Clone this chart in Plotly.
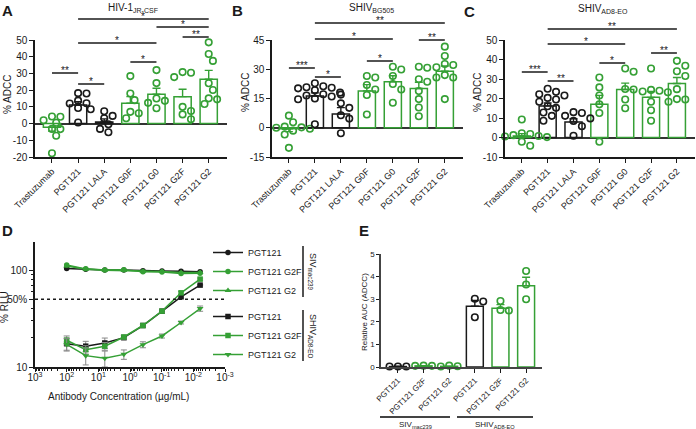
import numpy as np
import plotly.graph_objects as go

W, H = 696, 429
GREEN = "#35a035"
BLACK = "#1a1a1a"
GRAY = "#888888"
FONT = "Liberation Sans"

# ---------------- data: panels A-C ----------------
categories = ["Trastuzumab", "PGT121", "PGT121 LALA", "PGT121 G0F",
              "PGT121 G0", "PGT121 G2F", "PGT121 G2"]
cat_color = ["g", "k", "k", "g", "g", "g", "g"]

A_mean = [-2.2, 11.1, 1.0, 12.2, 17.5, 16.1, 26.5]
A_sem = [2.3, 2.0, 1.8, 3.9, 3.6, 4.4, 5.3]
A_pts = [
    [4.2, 4.1, 2.0, 0.5, -3.2, -3.3, -7.3, -17.8],
    [18.2, 18.0, 13.7, 12.2, 12.0, 9.3, 8.6, 0.6],
    [7.4, 4.6, 3.2, -0.4, -3.2, -5.2],
    [28.4, 18.0, 14.0, 7.0, 6.2, 3.2],
    [32.0, 24.2, 15.0, 13.6, 12.4, 9.2],
    [30.8, 30.4, 27.8, 10.0, 7.5, 5.5, 2.6],
    [48.6, 41.6, 37.5, 24.1, 20.1, 15.1, 14.5, 11.7],
]
B_mean = [-0.5, 16.3, 7.0, 18.9, 23.6, 20.1, 29.0]
B_sem = [1.5, 1.6, 3.3, 3.2, 3.1, 3.2, 2.7]
B_pts = [
    [6.2, 2.8, 0.6, 0.2, 0.0, -0.5, -1.5, -3.5, -10.3],
    [22.8, 21.3, 20.8, 20.5, 20.2, 19.2, 18.0, 17.2, 16.5, 16.0, 15.0, 14.6, 1.8],
    [17.0, 12.5, 10.2, 6.4, 4.7, -2.8],
    [26.5, 25.8, 21.9, 19.6, 16.8, 6.8],
    [31.3, 29.9, 26.5, 22.4, 19.6, 12.8],
    [31.3, 30.8, 24.9, 23.6, 18.8, 14.7, 10.4, 5.9],
    [41.6, 36.8, 32.7, 32.2, 31.0, 27.0, 25.8, 25.8, 14.7],
]
C_mean = [0.8, 16.2, 8.0, 17.1, 24.6, 20.6, 27.7]
C_sem = [1.2, 1.5, 1.6, 4.5, 3.3, 3.0, 3.1]
C_pts = [
    [9.2, 2.2, 1.8, 1.2, 0.8, 0.5, 0.2, 0.0, -2.2, -4.2],
    [25.0, 23.4, 22.2, 21.5, 20.3, 19.5, 18.3, 16.0, 15.2, 12.8, 11.1, 8.6],
    [13.0, 12.6, 11.1, 9.8, 8.5, 5.8, 0.9],
    [30.8, 25.7, 21.5, 17.0, 12.6, -2.2],
    [35.4, 33.7, 24.9, 24.6, 19.5, 15.0],
    [35.4, 24.4, 24.0, 23.6, 23.2, 18.3, 14.0, 8.6],
    [39.3, 36.8, 34.0, 31.5, 24.8, 19.7, 19.5, 18.3],
]
A_ticks = [-20, -10, 0, 10, 20, 30, 40, 50]
B_ticks = [-15, 0, 15, 30, 45]
C_ticks = [-10, 0, 10, 20, 30, 40, 50]

# significance comparisons: (from, to, stars)
A_sig = [(0, 1, "**"), (1, 2, "*"), (1, 4, "*"), (3, 4, "*"), (1, 6, "*"), (4, 6, "*"), (5, 6, "**")]
B_sig = [(0, 1, "***"), (1, 2, "*"), (1, 4, "*"), (3, 4, "*"), (1, 6, "**"), (5, 6, "**")]
C_sig = [(0, 1, "***"), (1, 2, "**"), (1, 4, "*"), (3, 4, "*"), (1, 6, "**"), (5, 6, "**")]

# ---------------- data: panel D ----------------
conc = [100, 25, 6.25, 1.5625, 0.390625, 0.09765625, 0.0244140625, 0.006103515625]
siv_pgt121 = [104, 102, 100, 100, 98.5, 97.8, 97.5, 96]
siv_g2f = [113, 103, 100, 101, 96, 95.5, 92.5, 93]
siv_g2 = [110, 102, 99.5, 99, 97.5, 96.5, 94.5, 94.5]
shiv_pgt121 = [17.4, 16.4, 17.7, 20.1, 26.8, 37.7, 53, 70]
shiv_g2f = [18.9, 15.1, 16.4, 20.4, 26.8, 37.7, 58.3, 80.7]
shiv_g2 = [17.1, 13.1, 12.3, 13.5, 17.0, 20.9, 28.8, 40.1]
shiv_pgt121_err = [2.5, 2.0, 2.2, 1.0, 0.8, 1.0, 1.5, 1.0]
shiv_g2f_err = [2.0, 1.5, 1.5, 1.0, 0.8, 1.0, 2.0, 2.0]
shiv_g2_err = [2.5, 2.6, 2.3, 1.5, 1.2, 1.0, 1.0, 2.5]
D_xticks = [1e3, 1e2, 1e1, 1e0, 1e-1, 1e-2, 1e-3]
D_xlabels = ["10<sup>3</sup>", "10<sup>2</sup>", "10<sup>1</sup>", "10<sup>0</sup>",
             "10<sup>-1</sup>", "10<sup>-2</sup>", "10<sup>-3</sup>"]

# ---------------- data: panel E ----------------
E_labels = ["PGT121", "PGT121 G2F", "PGT121 G2", "PGT121", "PGT121 G2F", "PGT121 G2"]
E_color = ["k", "g", "g", "k", "g", "g"]
E_mean = [0.02, 0.05, 0.03, 2.69, 2.6, 3.6]
E_sem = [0.01, 0.01, 0.01, 0.25, 0.16, 0.37]
E_pts = [[0.02, 0.02, 0.02], [0.05, 0.06, 0.05], [0.02, 0.06, 0.03],
         [3.02, 2.9, 2.2], [2.5, 2.92, 2.52], [4.25, 3.65, 3.0]]

# ---------------- geometry (pixels) ----------------
def px(x):
    return x / W

def py(y):
    return 1 - y / H

PAN = {
    "A": dict(xa="x", ya="y", dom=(35, 227), rng=(-0.65, 6.7), ydom=(40, 157), yrng=(-20, 50)),
    "B": dict(xa="x2", ya="y2", dom=(272, 463), rng=(-0.65, 6.7), ydom=(40, 157), yrng=(-15, 45)),
    "C": dict(xa="x3", ya="y3", dom=(505, 695), rng=(-0.65, 6.7), ydom=(40, 157), yrng=(-10, 50)),
}
E_geo = dict(xa="x5", ya="y5", dom=(381, 542), rng=(-0.66, 5.62), ydom=(254, 367), yrng=(0, 5))
D_geo = dict(dom=(35, 225), ydom=(242, 367), yrng=(1.0, 2.29))


def cat_px(g, c):
    d0, d1 = g["dom"]
    r0, r1 = g["rng"]
    return d0 + (c - r0) / (r1 - r0) * (d1 - d0)


def swarm(vals, kx, ky, diam=7.0):
    order = sorted(range(len(vals)), key=lambda i: -vals[i])
    placed = []
    offs = [0.0] * len(vals)
    step = diam * 0.6
    for i in order:
        yv = vals[i] * ky
        cand = 0.0
        for k in range(40):
            cand = 0.0 if k == 0 else ((k + 1) // 2) * step * (1 if k % 2 else -1)
            if all((cand - a) ** 2 + (yv - b) ** 2 >= diam ** 2 for a, b in placed):
                break
        placed.append((cand, yv))
        offs[i] = cand / kx
    return offs


def col(c):
    return GREEN if c == "g" else BLACK


fig = go.Figure()
shapes = []
annots = []


def add_bar_panel(g, means, sems, pts, colors):
    kx = (g["dom"][1] - g["dom"][0]) / (g["rng"][1] - g["rng"][0])
    ky = (g["ydom"][1] - g["ydom"][0]) / (g["yrng"][1] - g["yrng"][0])
    for i, m in enumerate(means):
        c = col(colors[i])
        fig.add_trace(go.Bar(
            x=[i], y=[m], width=0.66, xaxis=g["xa"], yaxis=g["ya"],
            marker=dict(color="white", line=dict(color=c, width=1.5)),
            error_y=dict(type="data", symmetric=False,
                         array=[sems[i] if m >= 0 else 0],
                         arrayminus=[0 if m >= 0 else sems[i]],
                         color=c, thickness=1.4, width=4),
            showlegend=False, hoverinfo="skip"))
        offs = swarm(pts[i], kx, ky)
        fig.add_trace(go.Scatter(
            x=[i + o for o in offs], y=pts[i], mode="markers",
            xaxis=g["xa"], yaxis=g["ya"], cliponaxis=False,
            marker=dict(symbol="circle-open", size=6.5, color=c, line=dict(width=1.6)),
            showlegend=False, hoverinfo="skip"))


sig_levels = {
    "A": [73, 84, 43, 62, 19, 27, 37],
    "B": [68, 77, 39, 61, 23, 40],
    "C": [72, 81, 44, 63, 29, 53],
}

for key, means, sems, pts, sig in [("A", A_mean, A_sem, A_pts, A_sig),
                                   ("B", B_mean, B_sem, B_pts, B_sig),
                                   ("C", C_mean, C_sem, C_pts, C_sig)]:
    g = PAN[key]
    add_bar_panel(g, means, sems, pts, cat_color)
    for (i, j, stars), yl in zip(sig, sig_levels[key]):
        x0, x1 = cat_px(g, i), cat_px(g, j)
        shapes.append(dict(type="line", xref="paper", yref="paper",
                           x0=px(x0), x1=px(x1), y0=py(yl), y1=py(yl),
                           line=dict(color=BLACK, width=1.5)))
        annots.append(dict(text=stars, xref="paper", yref="paper",
                           x=px((x0 + x1) / 2), y=py(yl + 5), xanchor="center",
                           yanchor="bottom", showarrow=False,
                           font=dict(size=10, color=BLACK)))

# panel E bars
add_bar_panel(E_geo, E_mean, E_sem, E_pts, E_color)

# panel D curves
d_series = [
    ("PGT121", siv_pgt121, None, BLACK, "circle", 5.5, "legend"),
    ("PGT121 G2F", siv_g2f, None, GREEN, "circle", 5.5, "legend"),
    ("PGT121 G2", siv_g2, None, GREEN, "triangle-up", 6, "legend"),
    ("PGT121", shiv_pgt121, shiv_pgt121_err, BLACK, "square", 5.5, "legend2"),
    ("PGT121 G2F", shiv_g2f, shiv_g2f_err, GREEN, "square", 5.5, "legend2"),
    ("PGT121 G2", shiv_g2, shiv_g2_err, GREEN, "triangle-down", 6, "legend2"),
]
for name, ys, err, c, sym, sz, lg in d_series:
    fig.add_trace(go.Scatter(
        x=conc, y=ys, name=name, mode="lines+markers", xaxis="x4", yaxis="y4",
        line=dict(color=c, width=1.5), marker=dict(symbol=sym, size=sz, color=c),
        error_y=(dict(type="data", array=err, color=GRAY, thickness=1, width=3)
                 if err else None),
        legend=lg, cliponaxis=False, hoverinfo="skip"))

# dotted 50% line
y50 = D_geo["ydom"][0] + (D_geo["yrng"][1] - np.log10(50)) / (D_geo["yrng"][1] - D_geo["yrng"][0]) * (D_geo["ydom"][1] - D_geo["ydom"][0])
shapes.append(dict(type="line", xref="paper", yref="paper", x0=px(35), x1=px(224),
                   y0=py(y50), y1=py(y50), line=dict(color=BLACK, width=1.5, dash="dot")))

# legend group brackets for D
shapes.append(dict(type="line", xref="paper", yref="paper", x0=px(303), x1=px(303),
                   y0=py(246), y1=py(297), line=dict(color=BLACK, width=1.5)))
shapes.append(dict(type="line", xref="paper", yref="paper", x0=px(303), x1=px(303),
                   y0=py(310), y1=py(361), line=dict(color=BLACK, width=1.5)))
annots.append(dict(text="SIV<sub>mac239</sub>", xref="paper", yref="paper", x=px(313), y=py(271),
                   textangle=90, xanchor="center", yanchor="middle",
                   showarrow=False, font=dict(size=9, color=BLACK)))
annots.append(dict(text="SHIV<sub>AD8-EO</sub>", xref="paper", yref="paper", x=px(313), y=py(336),
                   textangle=90, xanchor="center", yanchor="middle",
                   showarrow=False, font=dict(size=9, color=BLACK)))

# E group brackets
for (a, b), lab in [((380, 450), "SIV<sub>mac239</sub>"), ((457, 533), "SHIV<sub>AD8-EO</sub>")]:
    shapes.append(dict(type="line", xref="paper", yref="paper", x0=px(a), x1=px(b),
                       y0=py(417), y1=py(417), line=dict(color="#444444", width=1.8)))
    annots.append(dict(text=lab, xref="paper", yref="paper", x=px((a + b) / 2), y=py(417.5),
                       xanchor="center", yanchor="top", showarrow=False,
                       font=dict(size=8, color=BLACK)))

# panel letters and titles
for t, x, y in [("A", 0, 0), ("B", 230, 0), ("C", 462, 1), ("D", 0, 220), ("E", 357, 220)]:
    annots.append(dict(text="<b>%s</b>" % t, xref="paper", yref="paper", x=px(x), y=py(y),
                       xanchor="left", yanchor="top", showarrow=False,
                       font=dict(size=15, color=BLACK)))
for t, x, y in [("HIV-1<sub>JR-CSF</sub>", 106, 0), ("SHIV<sub>BG505</sub>", 347, 0),
                ("SHIV<sub>AD8-EO</sub>", 576, 1)]:
    annots.append(dict(text=t, xref="paper", yref="paper", x=px(x), y=py(y),
                       xanchor="left", yanchor="top", align="left", showarrow=False,
                       font=dict(size=10, color=BLACK)))
# y titles
for t, x, y, s in [("% ADCC", 8, 95, 10), ("% ADCC", 245, 92, 10), ("% ADCC", 477, 92, 10),
                   ("% RLU", 4, 307, 10), ("Relative AUC (ADCC)", 364, 312, 8)]:
    annots.append(dict(text=t, xref="paper", yref="paper", x=px(x), y=py(y), textangle=-90,
                       xanchor="center", yanchor="middle",
                       showarrow=False, font=dict(size=s, color=BLACK)))
annots.append(dict(text="Antibody Concentration (µg/mL)", xref="paper", yref="paper",
                   x=px(46), y=py(396), xanchor="left", yanchor="middle", align="left",
                   showarrow=False, font=dict(size=10, color=BLACK)))

axis_common = dict(showline=True, linecolor=BLACK, linewidth=1.5, showgrid=False,
                   ticks="outside", ticklen=4, tickwidth=1.3, tickcolor=BLACK,
                   automargin=False, fixedrange=True)

layout = dict(width=W, height=H, margin=dict(l=0, r=0, t=0, b=0),
              paper_bgcolor="white", plot_bgcolor="white", barmode="overlay",
              font=dict(family=FONT, color=BLACK), shapes=shapes, annotations=annots)

for n, (key, ticks) in enumerate([("A", A_ticks), ("B", B_ticks), ("C", C_ticks)]):
    g = PAN[key]
    sfx = "" if n == 0 else str(n + 1)
    layout["xaxis" + sfx] = dict(axis_common, domain=[px(g["dom"][0]), px(g["dom"][1])],
                                 range=list(g["rng"]), tickvals=list(range(len(categories))),
                                 ticktext=categories, tickangle=-45, zeroline=False,
                                 tickfont=dict(size=9), anchor="y" + sfx)
    layout["yaxis" + sfx] = dict(axis_common, domain=[py(g["ydom"][1]), py(g["ydom"][0])],
                                 range=list(g["yrng"]), tickvals=ticks,
                                 ticktext=[str(v) for v in ticks], zeroline=True,
                                 zerolinecolor="#333333", zerolinewidth=1.6,
                                 tickfont=dict(size=10), anchor="x" + sfx)

layout["xaxis4"] = dict(axis_common, type="log", domain=[px(35), px(225)], range=[3, -3],
                        tickvals=D_xticks, ticktext=D_xlabels, zeroline=False, ticklen=3,
                        ticklabelstandoff=-3,
                        tickfont=dict(size=10), anchor="y4",
                        minor=dict(ticks="outside", ticklen=2, dtick="D1", tickcolor=BLACK))
layout["yaxis4"] = dict(axis_common, type="log", domain=[py(367), py(242)],
                        range=list(D_geo["yrng"]), tickvals=[10, 50, 100],
                        ticktext=["10", "50%", "100"], zeroline=False,
                        tickfont=dict(size=10), anchor="x4",
                        minor=dict(ticks="outside", ticklen=2, tickcolor=BLACK,
                                   tickvals=[20, 30, 40, 60, 70, 80, 90]))
layout["xaxis5"] = dict(axis_common, domain=[px(E_geo["dom"][0]), px(E_geo["dom"][1])],
                        range=list(E_geo["rng"]), tickvals=list(range(6)), ticktext=E_labels,
                        tickangle=-45, zeroline=False, tickfont=dict(size=8), anchor="y5",
                        linecolor="#444444")
layout["yaxis5"] = dict(axis_common, domain=[py(367), py(254)], range=[0, 5], dtick=1,
                        zeroline=False, tickfont=dict(size=8), anchor="x5", ticklen=3,
                        linecolor="#444444")

legend_common = dict(xanchor="left", yanchor="top", font=dict(size=9, color=BLACK),
                     bgcolor="rgba(0,0,0,0)", borderwidth=0, tracegroupgap=0, itemwidth=30)
layout["legend"] = dict(legend_common, x=px(208), y=py(238))
layout["legend2"] = dict(legend_common, x=px(208), y=py(302))

fig.update_layout(**layout)
fig.write_html("out.html", config={"displayModeBar": False},
               post_script="document.body.style.margin='0px';document.body.style.padding='0px';")
